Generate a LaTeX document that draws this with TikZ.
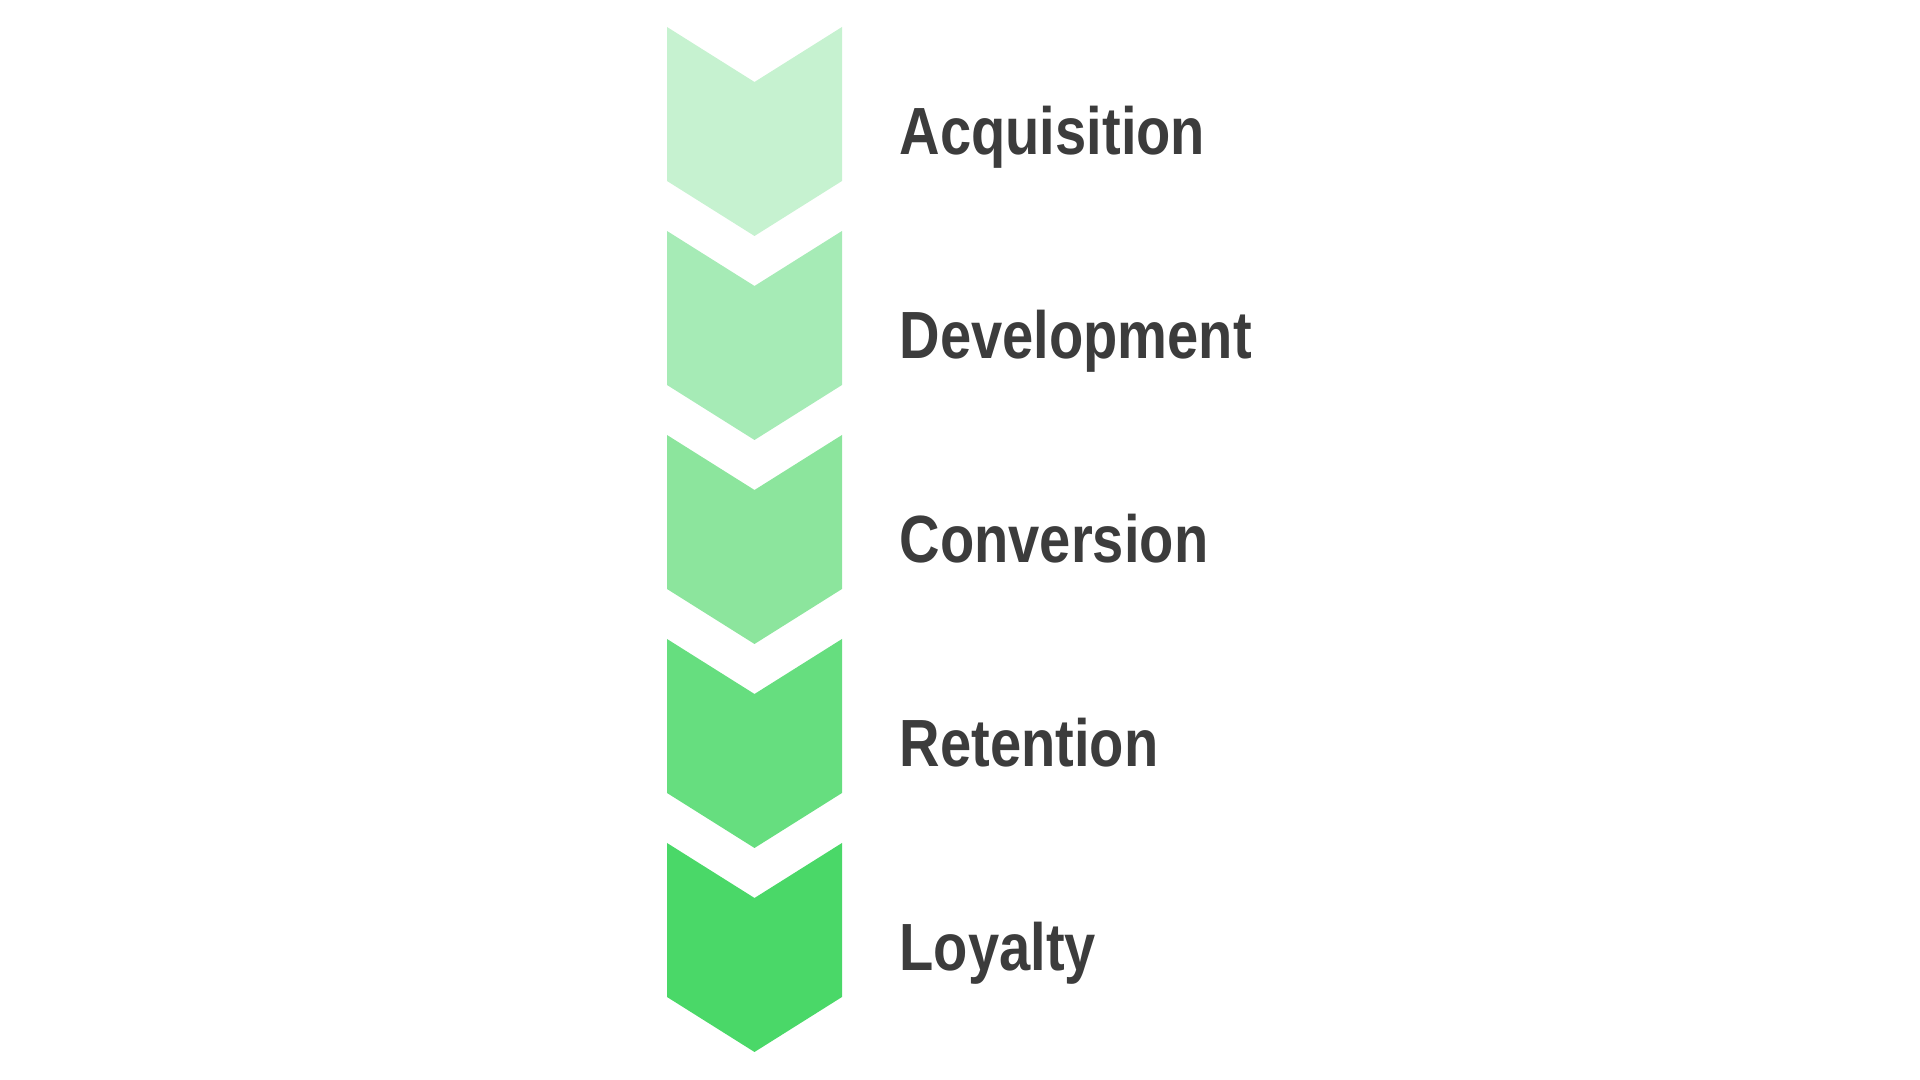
\documentclass[tikz,border=0pt]{standalone}
\usepackage{fontspec}
\setmainfont{Liberation Sans}[FakeStretch=0.84]
\usepackage{xcolor}
\usepackage{tikz}
\usetikzlibrary{positioning, calc}
\definecolor{ink}{HTML}{3C3C3C}
\definecolor{tintA}{HTML}{C6F2D0}
\definecolor{tintB}{HTML}{A6EBB6}
\definecolor{tintC}{HTML}{8CE59D}
\definecolor{tintD}{HTML}{66DE7F}
\definecolor{tintE}{HTML}{4AD868}

\begin{document}
\begin{tikzpicture}[font=\fontsize{19}{23}\selectfont\bfseries]
  \useasboundingbox (0,0) rectangle (19.2,10.8);
  \def\chevL{6.67}
  \def\chevR{8.42}
  \def\chevTop{10.53}
  \def\chevStep{2.04}
  \def\sideH{1.54}
  \def\tipH{0.55}
  \pgfmathsetmacro{\chevM}{(\chevL+\chevR)/2}
  \foreach \c/\t [count=\i from 0] in {tintA/Acquisition, tintB/Development, tintC/Conversion, tintD/Retention, tintE/Loyalty} {
    \pgfmathsetmacro{\yt}{\chevTop-\i*\chevStep}
    \fill[\c] (\chevL,\yt) -- (\chevM,\yt-\tipH) -- (\chevR,\yt)
      -- (\chevR,\yt-\sideH) -- (\chevM,\yt-\sideH-\tipH) -- (\chevL,\yt-\sideH) -- cycle;
    \node[anchor=base west, inner sep=0pt, text=ink] (stage\i) at (8.99,\yt-1.28) {\t};
  }
\end{tikzpicture}
\end{document}
